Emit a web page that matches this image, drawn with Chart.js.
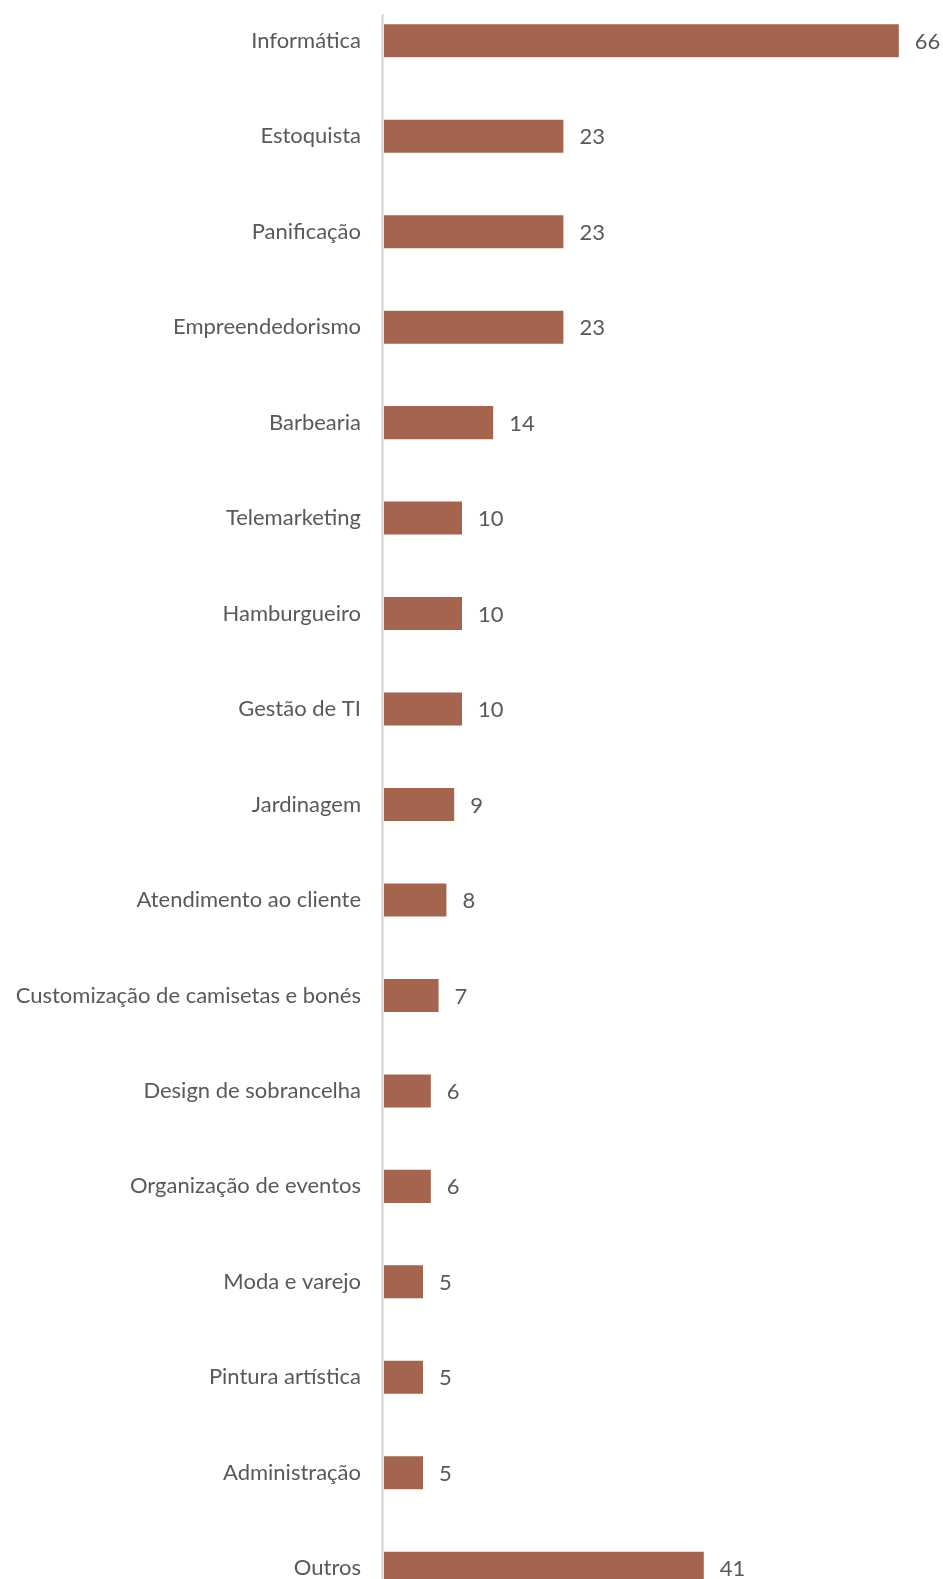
<!DOCTYPE html>
<html>
<head>
<meta charset="utf-8">
<script src="https://cdn.jsdelivr.net/npm/chart.js@4"></script>
<style>
  html, body { margin: 0; padding: 0; background: #ffffff; overflow: hidden; width: 943px; height: 1579px; }
  #wrap { position: absolute; left: 0; top: -7px; width: 943px; height: 1623px; }
</style>
</head>
<body>
<div id="wrap"><canvas id="c"></canvas></div>
<script>
const categories = [
  "Informática", "Estoquista", "Panificação", "Empreendedorismo", "Barbearia",
  "Telemarketing", "Hamburgueiro", "Gestão de TI", "Jardinagem", "Atendimento ao cliente",
  "Customização de camisetas e bonés", "Design de sobrancelha", "Organização de eventos",
  "Moda e varejo", "Pintura artística", "Administração", "Outros"
];
const values = [66, 23, 23, 23, 14, 10, 10, 10, 9, 8, 7, 6, 6, 5, 5, 5, 41];

const FONT = "Lato, 'Open Sans', sans-serif";
const TEXT = "#595959";

const valueLabels = {
  id: 'valueLabels',
  afterDatasetsDraw(chart) {
    const ctx = chart.ctx;
    const meta = chart.getDatasetMeta(0);
    ctx.save();
    ctx.font = "22px " + FONT;
    ctx.fillStyle = TEXT;
    ctx.textAlign = 'left';
    ctx.textBaseline = 'middle';
    meta.data.forEach((bar, i) => {
      ctx.fillText(String(values[i]), bar.x + 16, bar.y + 1);
    });
    ctx.restore();
  }
};

const axisLine = {
  id: 'axisLine',
  beforeDatasetsDraw(chart) {
    const ctx = chart.ctx;
    const x = chart.scales.x.getPixelForValue(0) - 1.5;
    const first = chart.getDatasetMeta(0).data[0];
    const top = first.y - first.height / 2 - 10;
    ctx.save();
    ctx.strokeStyle = '#d9d9d9';
    ctx.lineWidth = 2.5;
    ctx.beginPath();
    ctx.moveTo(x, top);
    ctx.lineTo(x, chart.chartArea.bottom);
    ctx.stroke();
    ctx.restore();
  }
};

new Chart(document.getElementById('c'), {
  type: 'bar',
  data: {
    labels: categories,
    datasets: [{
      data: values,
      backgroundColor: '#a5644e',
      borderWidth: 0,
      categoryPercentage: 1,
      barPercentage: 0.346
    }]
  },
  options: {
    indexAxis: 'y',
    responsive: true,
    maintainAspectRatio: false,
    animation: false,
    layout: { padding: { left: 0, right: 13, top: 0, bottom: 0 } },
    plugins: { legend: { display: false }, tooltip: { enabled: false } },
    scales: {
      x: { display: false, min: 0, max: 70 },
      y: {
        grid: { display: false, drawTicks: false },
        border: { display: false },
        ticks: { color: TEXT, font: { family: FONT, size: 22 }, padding: 23, autoSkip: false },
        afterFit(scale) { scale.width = 384; scale.paddingTop = 0; scale.paddingBottom = 0; }
      }
    }
  },
  plugins: [axisLine, valueLabels]
});
</script>
</body>
</html>
